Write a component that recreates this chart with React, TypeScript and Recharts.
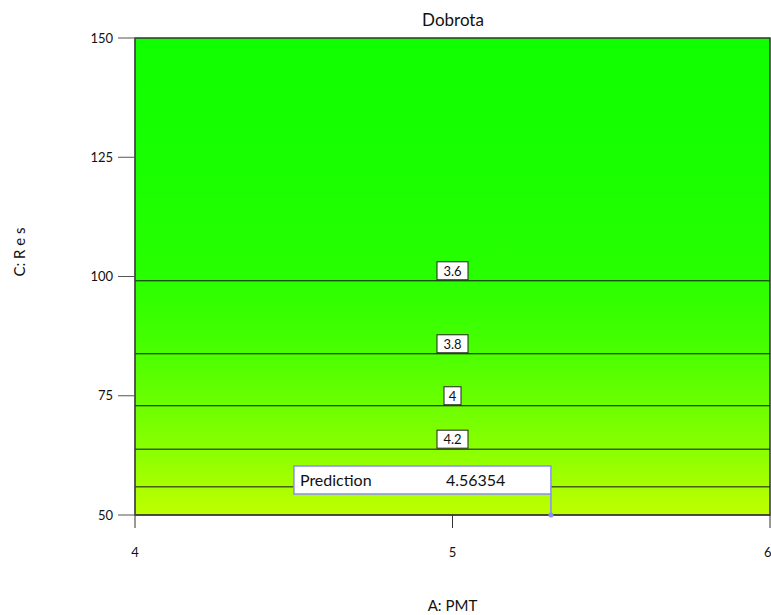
import {ComposedChart, XAxis, YAxis, ReferenceArea, ReferenceLine, ReferenceDot, Label} from "recharts"

// contour levels of the response and where they cross C (horizontal lines)
const contourLevels = ["3.6", "3.8", "4", "4.2", "4.4"]
const contourC = [99.1, 83.8, 72.9, 63.8, 55.9]
// the 4.4 tag sits under the prediction flag, so it is not shown
const taggedLevels = ["3.6", "3.8", "4", "4.2"]

// colour of the response surface at a given C
const shadeC = [150, 125, 100, 85, 72, 62, 52, 50]
const shadeColors = ["#10ff00", "#18ff00", "#28ff00", "#48ff00", "#70ff00", "#90ff00", "#b8ff00", "#bcff00"]

const xTicks = [4, 5, 6]
const yTicks = [50, 75, 100, 125, 150]

const predictionA = 5.31
const predictionC = 50
const predictionLabel = "Prediction"
const predictionValue = "4.56354"

const font = "Lato, 'Open Sans', sans-serif"

function ContourTag({viewBox, text}: {viewBox: any; text: string}) {
    const cx = viewBox.x + viewBox.width / 2
    const w = text.length * 7 + 10
    const h = 18
    return (
        <g>
            <rect x={cx - w / 2} y={viewBox.y - h - 1} width={w} height={h} fill="#fff" stroke="#222" strokeWidth={1}/>
            <text x={cx} y={viewBox.y - 5} textAnchor="middle" fontSize={13} fontFamily={font} fill="#111">{text}</text>
        </g>
    )
}

function PredictionFlag(props: any) {
    const {cx, cy} = props
    const right = cx
    const bottom = cy - 21
    return (
        <g>
            <line x1={right} y1={bottom} x2={right} y2={cy} stroke="#8a8aff" strokeWidth={1.5}/>
            <circle cx={right} cy={cy} r={2.5} fill="#8a8aff"/>
            <rect x={right - 257} y={bottom - 28} width={257} height={28} fill="#fff" stroke="#8a8aff" strokeWidth={1.5}/>
            <text x={right - 251} y={bottom - 8} fontSize={16} fontFamily={font} fill="#111">{predictionLabel}</text>
            <text x={right - 105} y={bottom - 8} fontSize={16} fontFamily={font} fill="#111">{predictionValue}</text>
        </g>
    )
}

export default function App() {
    return (
        <div style={{position: "absolute", left: 0, top: 0}}>
            <ComposedChart width={771} height={615} margin={{top: 38, right: 1, bottom: 0, left: 0}} data={[]}>
                <defs>
                    <linearGradient id="surface" x1="0" y1="0" x2="0" y2="1">
                        {shadeC.map((c, i) => (
                            <stop key={c} offset={`${150 - c}%`} stopColor={shadeColors[i]}/>
                        ))}
                    </linearGradient>
                </defs>
                <text x={453} y={26} textAnchor="middle" fontSize={17} fontFamily={font} fill="#111">Dobrota</text>
                <XAxis
                    type="number"
                    dataKey="a"
                    domain={[4, 6]}
                    ticks={xTicks}
                    allowDataOverflow
                    height={100}
                    tickSize={13}
                    tickMargin={20}
                    stroke="#333"
                    tick={{fill: "#111", fontSize: 13, fontFamily: font}}
                >
                    <Label value="A: PMT" position="insideBottom" offset={4} fontSize={15} fontFamily={font} fill="#111"/>
                </XAxis>
                <YAxis
                    type="number"
                    dataKey="c"
                    domain={[50, 150]}
                    ticks={yTicks}
                    allowDataOverflow
                    width={135}
                    tickSize={17}
                    tickMargin={5}
                    stroke="#555"
                    tick={{fill: "#111", fontSize: 13, fontFamily: font}}
                >
                    <Label value="C: R e s" angle={-90} position="insideLeft" offset={20} fontSize={15} fontFamily={font} fill="#111"/>
                </YAxis>
                <ReferenceArea x1={4} x2={6} y1={50} y2={150} fill="url(#surface)" fillOpacity={1} stroke="#333" strokeWidth={1.5}/>
                {contourC.map((c, i) => (
                    <ReferenceLine
                        key={contourLevels[i]}
                        y={c}
                        stroke="#111"
                        strokeWidth={1}
                        label={taggedLevels.includes(contourLevels[i])
                            ? (p: any) => <ContourTag viewBox={p.viewBox} text={contourLevels[i]}/>
                            : undefined}
                    />
                ))}
                <ReferenceDot x={predictionA} y={predictionC} r={3} shape={PredictionFlag} ifOverflow="visible"/>
            </ComposedChart>
        </div>
    )
}
